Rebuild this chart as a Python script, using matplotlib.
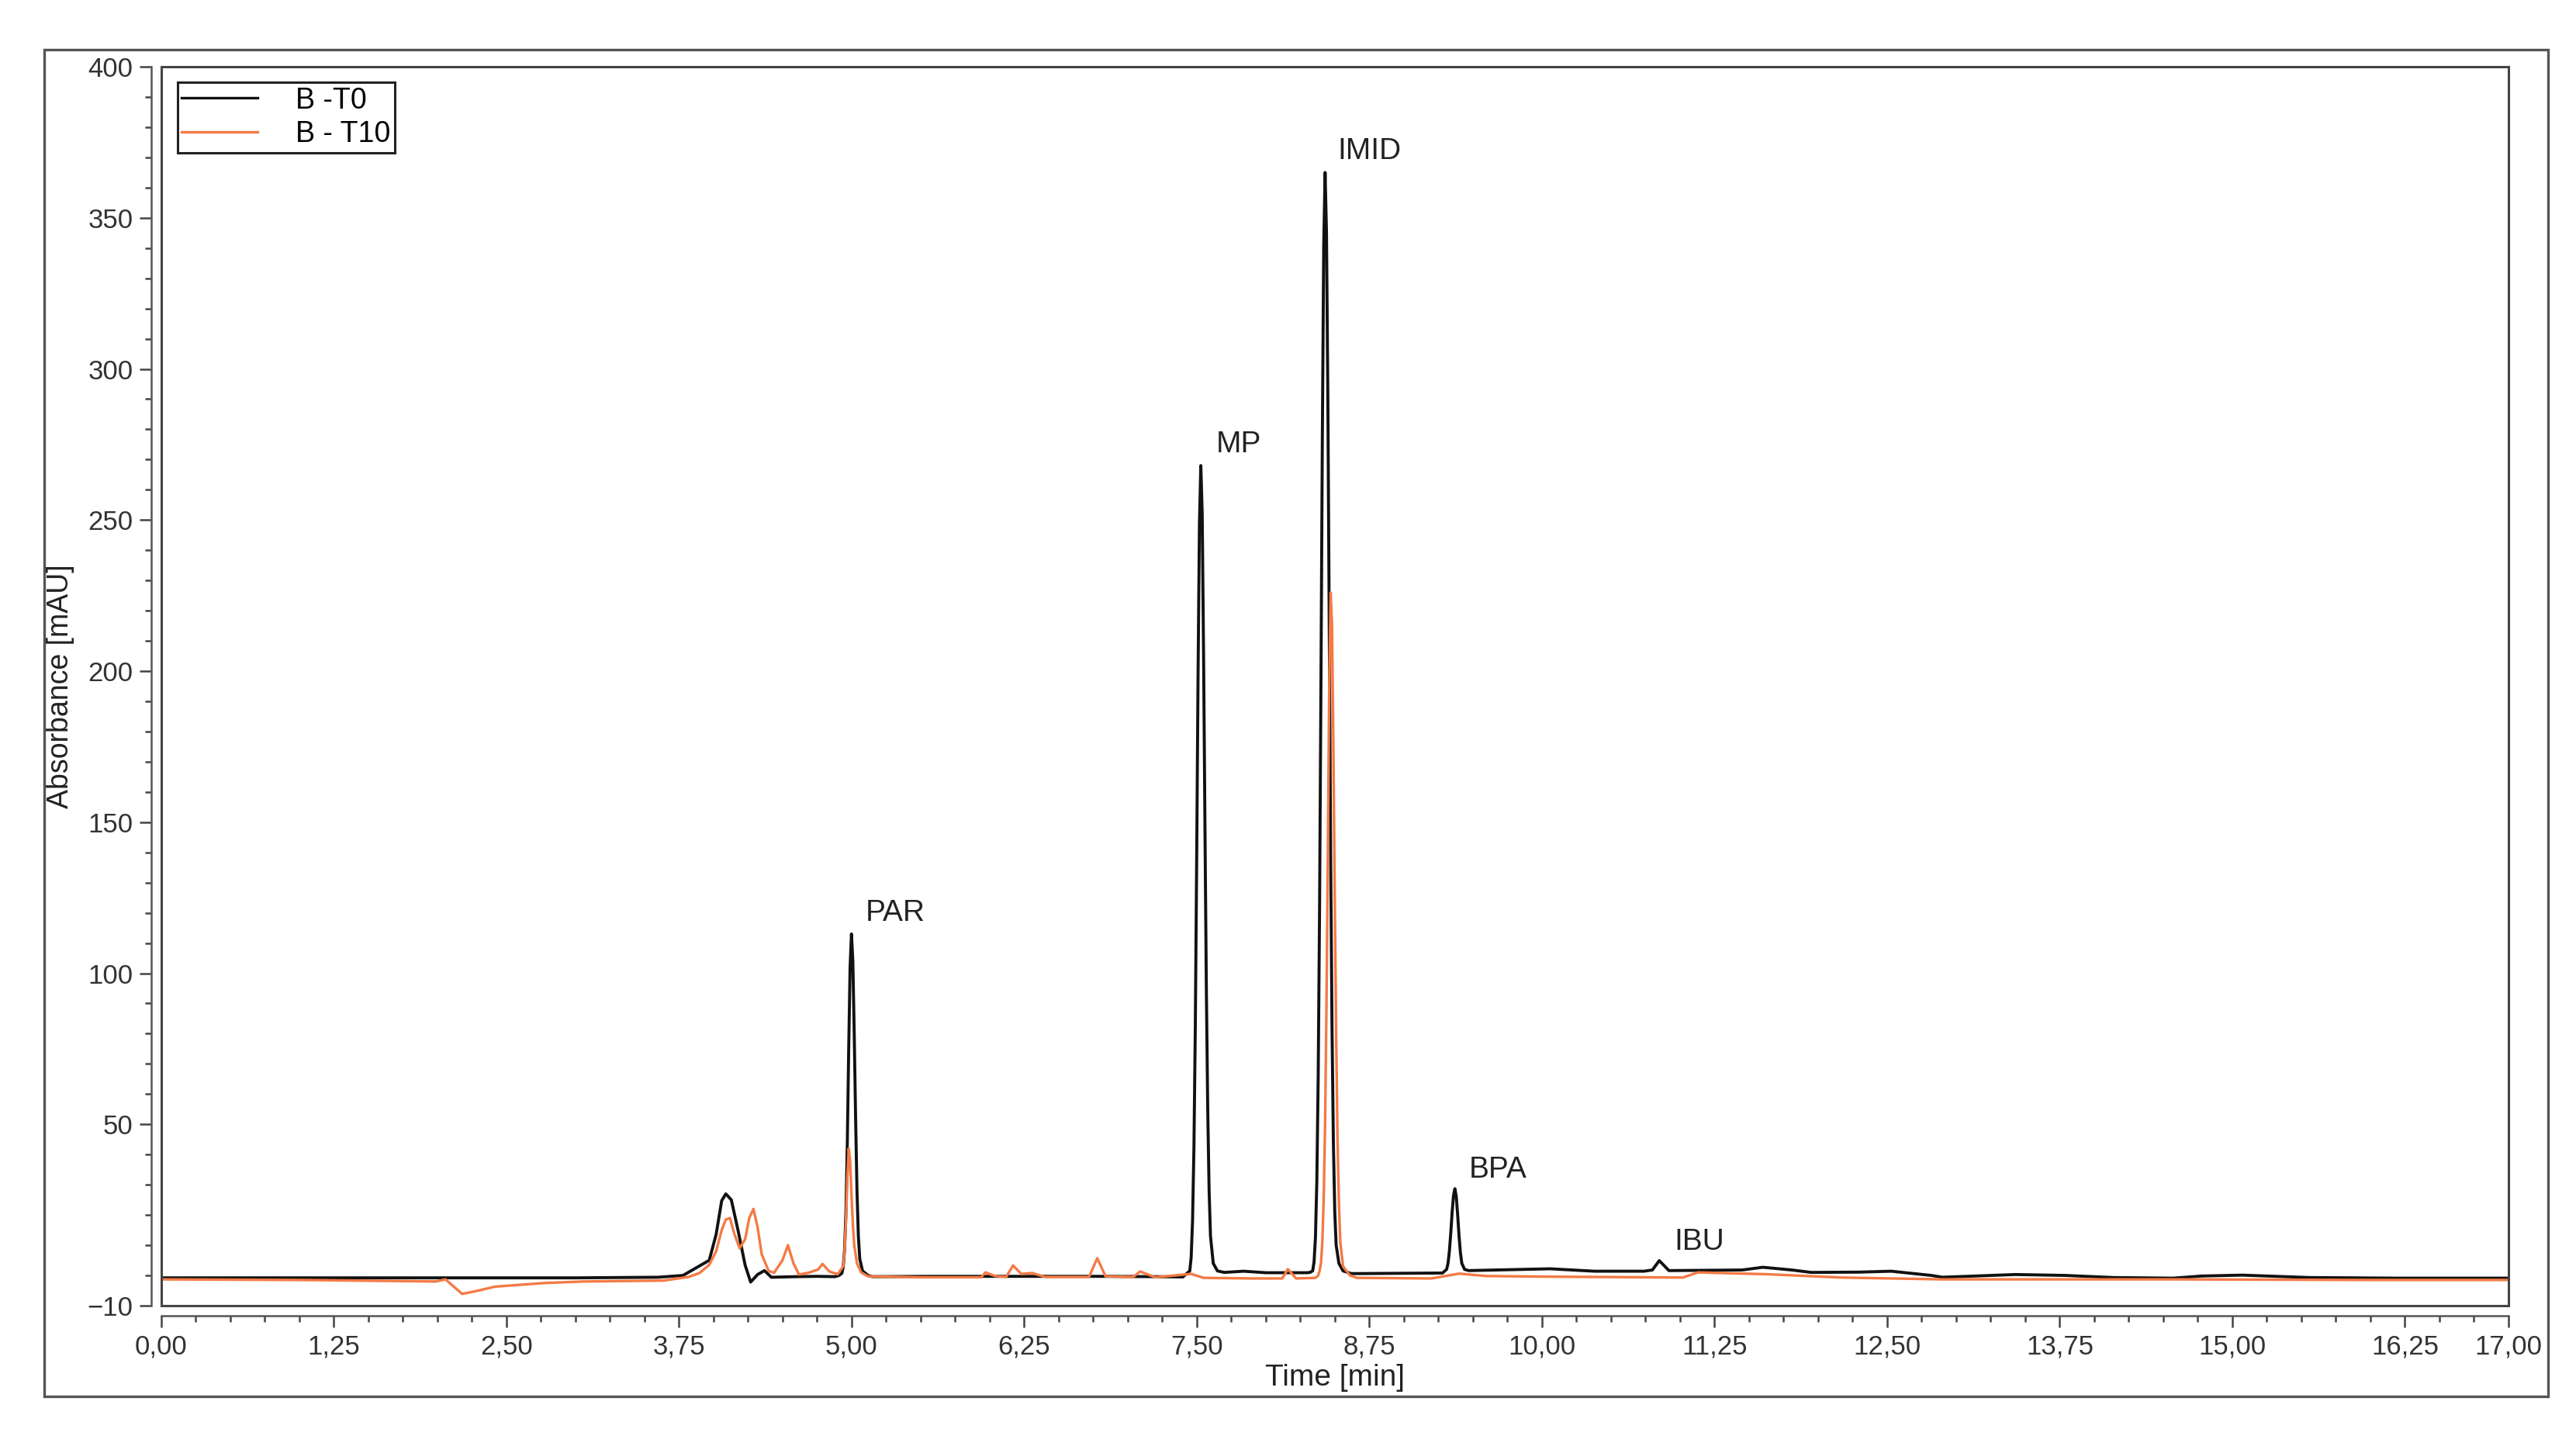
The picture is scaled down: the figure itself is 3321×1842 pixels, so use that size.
import matplotlib
matplotlib.use("Agg")
import matplotlib.pyplot as plt
from matplotlib.patches import Rectangle
from matplotlib.ticker import FixedLocator

plt.rcParams["font.family"] = ["Liberation Sans", "DejaVu Sans"]

# chromatogram B - T0 (time [min], absorbance [mAU])
t0_time = [0.00, 1.00, 2.00, 3.00, 3.60, 3.78, 3.86, 3.97, 4.02, 4.06, 4.09, 4.13, 4.18, 4.23, 4.27,
           4.32, 4.37, 4.42, 4.60, 4.75, 4.88, 4.91, 4.93, 4.94, 4.95, 4.96, 4.97, 4.98, 4.99, 5.00,
           5.01, 5.02, 5.03, 5.04, 5.05, 5.06, 5.08, 5.12, 5.15, 5.60, 6.20, 6.80, 7.20, 7.40, 7.45,
           7.46, 7.47, 7.48, 7.49, 7.50, 7.51, 7.52, 7.53, 7.54, 7.55, 7.56, 7.57, 7.58, 7.59, 7.60,
           7.62, 7.65, 7.70, 7.84, 8.00, 8.20, 8.30, 8.32, 8.34, 8.35, 8.36, 8.37, 8.38, 8.39, 8.40,
           8.41, 8.42, 8.43, 8.44, 8.45, 8.46, 8.47, 8.48, 8.49, 8.50, 8.51, 8.53, 8.56, 8.62, 9.00,
           9.28, 9.31, 9.32, 9.33, 9.34, 9.35, 9.36, 9.37, 9.38, 9.39, 9.40, 9.41, 9.42, 9.44, 9.47,
           9.66, 10.06, 10.38, 10.74, 10.80, 10.85, 10.92, 11.45, 11.60, 11.81, 11.95, 12.30, 12.53,
           12.82, 12.90, 13.43, 13.79, 14.14, 14.57, 14.78, 15.07, 15.56, 16.20, 17.00]
t0_abs = [-0.8, -0.8, -0.8, -0.8, -0.6, 0.0, 2.1, 5.0, 13.6, 24.7, 27.0, 25.0, 14.6, 3.4, -2.2,
          0.3, 1.6, -0.6, -0.4, -0.3, -0.4, 0.0, 0.7, 2.7, 8.5, 21.0, 44.0, 75.0, 102.0, 113.0,
          104.0, 80.0, 52.0, 28.0, 13.0, 5.5, 1.5, 0.0, -0.4, -0.3, -0.3, -0.3, -0.4, -0.5, 1.5,
          6.0, 18.0, 42.0, 82.0, 138.0, 199.0, 249.0, 268.0, 252.0, 205.0, 148.0, 95.0, 55.0, 28.0, 13.0,
          4.0, 1.5, 1.0, 1.4, 0.9, 0.9, 0.9, 1.0, 1.5, 4.5, 12.5, 31.0, 66.0, 122.0, 197.0,
          277.0, 341.0, 365.0, 345.0, 290.0, 215.0, 140.0, 82.0, 44.0, 21.0, 10.0, 4.0, 1.5, 0.6, 0.7,
          0.8, 2.0, 4.0, 8.0, 14.0, 21.0, 26.5, 28.7, 26.0, 20.0, 13.0, 7.5, 4.0, 2.0, 1.6,
          1.8, 2.2, 1.4, 1.4, 1.8, 4.9, 1.6, 1.8, 2.7, 1.8, 1.0, 1.1, 1.4,
          0.0, -0.6, 0.3, 0.0, -0.7, -0.9, -0.2, 0.1, -0.7, -0.9, -0.9]

# chromatogram B - T10
t10_time = [0.00, 1.00, 1.99, 2.06, 2.18, 2.27, 2.42, 2.78, 3.06, 3.64, 3.82, 3.90, 3.97, 4.02, 4.06,
            4.09, 4.12, 4.15, 4.19, 4.23, 4.26, 4.29, 4.32, 4.35, 4.40, 4.44, 4.50, 4.54, 4.58, 4.62,
            4.69, 4.76, 4.79, 4.84, 4.90, 4.94, 4.95, 4.96, 4.97, 4.98, 4.99, 5.00, 5.01, 5.02, 5.04,
            5.07, 5.12, 5.50, 5.94, 5.97, 6.04, 6.12, 6.17, 6.23, 6.31, 6.40, 6.72, 6.78, 6.84, 7.04,
            7.09, 7.20, 7.46, 7.55, 7.90, 8.12, 8.16, 8.22, 8.36, 8.38, 8.39, 8.40, 8.41, 8.42, 8.43,
            8.44, 8.45, 8.46, 8.47, 8.48, 8.49, 8.50, 8.51, 8.52, 8.53, 8.54, 8.56, 8.61, 8.66, 9.20,
            9.40, 9.60, 10.03, 11.02, 11.13, 11.63, 12.17, 12.90, 14.57, 16.00, 17.00]
t10_abs = [-1.3, -1.5, -2.0, -1.3, -6.1, -5.3, -3.7, -2.5, -2.0, -1.7, -0.5, 0.8, 3.5, 8.0, 15.0,
           18.5, 19.0, 14.0, 9.0, 12.0, 19.0, 22.0, 16.0, 7.0, 1.5, 0.9, 5.0, 10.0, 4.0, 0.3,
           0.9, 2.0, 3.8, 1.3, 0.4, 3.0, 8.0, 18.0, 32.0, 42.0, 38.0, 27.0, 17.0, 10.0, 4.0,
           1.0, -0.3, -0.6, -0.6, 1.0, -0.2, -0.5, 3.3, 0.5, 0.8, -0.5, -0.5, 5.7, -0.3, -0.5,
           1.3, -0.6, 0.5, -0.8, -1.0, -1.0, 2.1, -1.0, -0.8, 0.0, 1.5, 4.0, 11.0, 26.0, 50.0,
           90.0, 140.0, 195.0, 226.0, 215.0, 175.0, 125.0, 80.0, 45.0, 24.0, 11.0, 3.0, 0.0, -0.8, -1.0,
           0.6, -0.2, -0.4, -0.7, 1.0, 0.4, -0.7, -1.3, -1.3, -1.5, -1.5]

series_labels = ["B -T0", "B - T10"]
series_colors = ["#111111", "#f47a45"]

peak_names = ["PAR", "MP", "IMID", "BPA", "IBU"]
peak_text_x = [5.10, 7.64, 8.52, 9.47, 10.96]
peak_text_y = [120, 275, 372, 35, 11]

x_major = [0.0, 1.25, 2.5, 3.75, 5.0, 6.25, 7.5, 8.75, 10.0, 11.25, 12.5, 13.75, 15.0, 16.25, 17.0]
x_major_labels = ["0,00", "1,25", "2,50", "3,75", "5,00", "6,25", "7,50", "8,75", "10,00",
                  "11,25", "12,50", "13,75", "15,00", "16,25", "17,00"]
y_major = [-10, 50, 100, 150, 200, 250, 300, 350, 400]

W, H = 3321, 1842
fig = plt.figure(figsize=(W / 100, H / 100), dpi=100)
ax = fig.add_axes([207.6 / W, 1 - 1683 / H, (3234 - 207.6) / W, (1683 - 86) / H])

ax.plot(t0_time, t0_abs, color=series_colors[0], lw=2.8, label=series_labels[0], zorder=3)
ax.plot(t10_time, t10_abs, color=series_colors[1], lw=2.4, label=series_labels[1], zorder=4)

for name, px, py in zip(peak_names, peak_text_x, peak_text_y):
    ax.text(px, py, name, fontsize=28, color="#222222", ha="left", va="center")

ax.set_xlim(0, 17)
ax.set_ylim(-10, 400)

# detached tick axes (left and bottom), plus a plain box around the plot
for side in ["left", "bottom"]:
    ax.spines[side].set_position(("outward", 9))
    ax.spines[side].set_color("#555555")
    ax.spines[side].set_linewidth(1.8)
for side in ["top", "right"]:
    ax.spines[side].set_visible(False)
ax.add_patch(Rectangle((0, 0), 1, 1, transform=ax.transAxes, fill=False,
                       ec="#444444", lw=2.2, zorder=5, clip_on=False))

ax.xaxis.set_major_locator(FixedLocator(x_major))
ax.set_xticklabels(x_major_labels)
ax.xaxis.set_minor_locator(FixedLocator([i * 0.25 for i in range(69)]))
ax.yaxis.set_major_locator(FixedLocator(y_major))
ax.yaxis.set_minor_locator(FixedLocator([v for v in range(0, 400, 10) if v % 50 != 0 or v == 0]))
ax.tick_params(which="major", length=11, width=1.8, color="#444444", labelsize=25,
               labelcolor="#333333", pad=6)
ax.tick_params(which="minor", length=6, width=1.8, color="#444444")

ax.set_xlabel("Time [min]", fontsize=28, color="#222222", labelpad=4)
ax.set_ylabel("Absorbance [mAU]", fontsize=27, color="#222222", labelpad=12)

leg = ax.legend(loc="upper left", bbox_to_anchor=(0.007, 0.9875), borderaxespad=0,
                fontsize=27, handlelength=2.6, handletextpad=1.3, borderpad=0.15,
                labelspacing=0.2, fancybox=False, framealpha=1)
leg.get_frame().set_edgecolor("#222222")
leg.get_frame().set_linewidth(2.2)
for line in leg.get_lines():
    line.set_linewidth(2.4)

fig.add_artist(Rectangle((57 / W, 1 - 1800 / H), (3285 - 57) / W, (1800 - 64) / H,
                         transform=fig.transFigure, fill=False, ec="#555555", lw=2.4))

fig.savefig("out.png", dpi=100)
